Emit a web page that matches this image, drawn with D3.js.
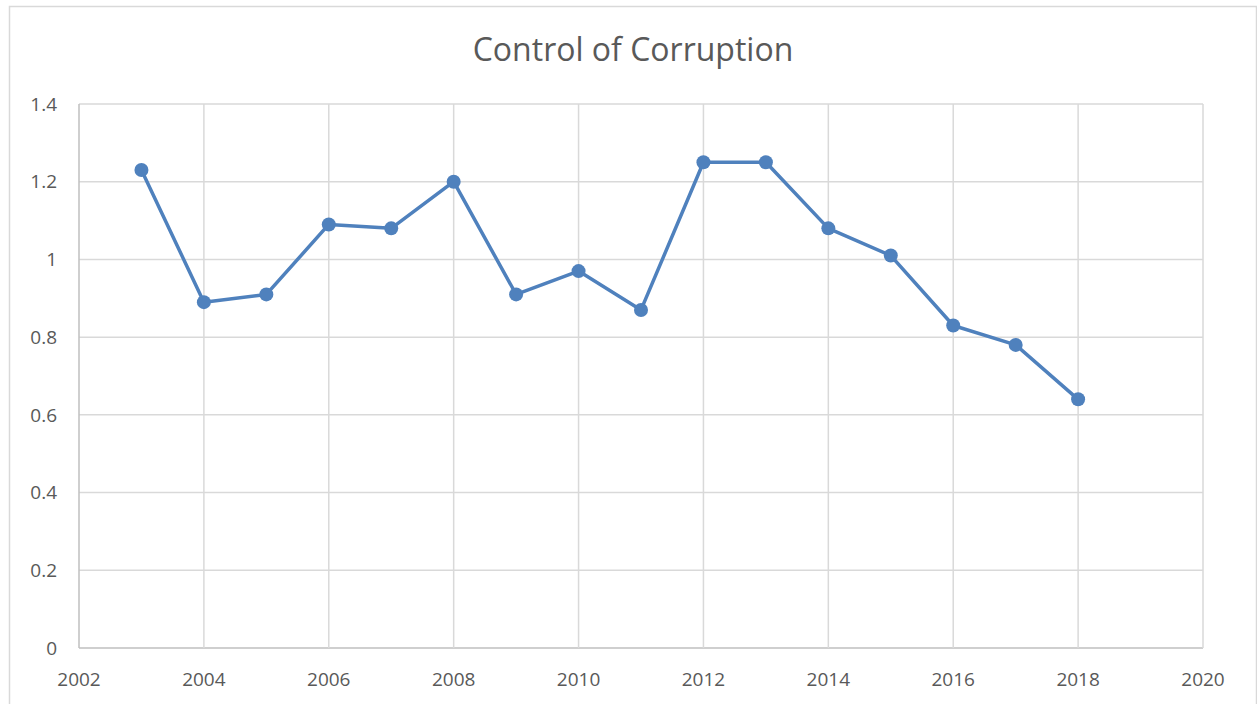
<!DOCTYPE html>
<html><head><meta charset="utf-8">
<script src="https://cdn.jsdelivr.net/npm/d3@7"></script>
<style>body{margin:0;background:#fff;}svg{display:block;}</style>
</head><body>
<script>
const years = [2003,2004,2005,2006,2007,2008,2009,2010,2011,2012,2013,2014,2015,2016,2017,2018];
const values = [1.23,0.89,0.91,1.09,1.08,1.20,0.91,0.97,0.87,1.25,1.25,1.08,1.01,0.83,0.78,0.64];
const xTicks = [2002,2004,2006,2008,2010,2012,2014,2016,2018,2020];
const yTicks = [0,0.2,0.4,0.6,0.8,1,1.2,1.4];
const title = "Control of Corruption";

const W=1257,H=704;
const svg=d3.select("body").append("svg").attr("width",W).attr("height",H);
svg.append("rect").attr("x",9.5).attr("y",6.5).attr("width",W-10).attr("height",H).attr("fill","#fff").attr("stroke","#d9d9d9").attr("stroke-width",1.5);
const L=79,R=1203,T=104,B=648;
const x=d3.scaleLinear().domain([2002,2020]).range([L,R]);
const y=d3.scaleLinear().domain([0,1.4]).range([B,T]);
const font="'Open Sans', 'Liberation Sans', sans-serif";
svg.append("text").attr("x",633).attr("y",61).attr("text-anchor","middle").attr("font-family",font).attr("font-size",32).attr("fill","#595959").text(title);
const g=svg.append("g");
g.selectAll(".hg").data(yTicks).join("line").attr("x1",L).attr("x2",R).attr("y1",d=>y(d)).attr("y2",d=>y(d)).attr("stroke",d=>d===0?"#bfbfbf":"#d9d9d9").attr("stroke-width",1.5);
g.selectAll(".vg").data(xTicks).join("line").attr("y1",T).attr("y2",B).attr("x1",d=>x(d)).attr("x2",d=>x(d)).attr("stroke",d=>d===2002?"#bfbfbf":"#d9d9d9").attr("stroke-width",1.5);
g.selectAll(".yl").data(yTicks).join("text").attr("x",57).attr("y",d=>y(d)).attr("dy","0.35em").attr("text-anchor","end").attr("font-family",font).attr("font-size",19).attr("fill","#595959").text(d=>d3.format("")(d));
g.selectAll(".xl").data(xTicks).join("text").attr("x",d=>x(d)).attr("y",686).attr("text-anchor","middle").attr("font-family",font).attr("font-size",19).attr("fill","#595959").text(d=>d);
const line=d3.line().x((d,i)=>x(years[i])).y(d=>y(d));
g.append("path").datum(values).attr("d",line).attr("fill","none").attr("stroke","#4f81bd").attr("stroke-width",3.5).attr("stroke-linejoin","round");
g.selectAll(".pt").data(values).join("circle").attr("cx",(d,i)=>x(years[i])).attr("cy",d=>y(d)).attr("r",7).attr("fill","#4f81bd");
</script>
</body></html>
